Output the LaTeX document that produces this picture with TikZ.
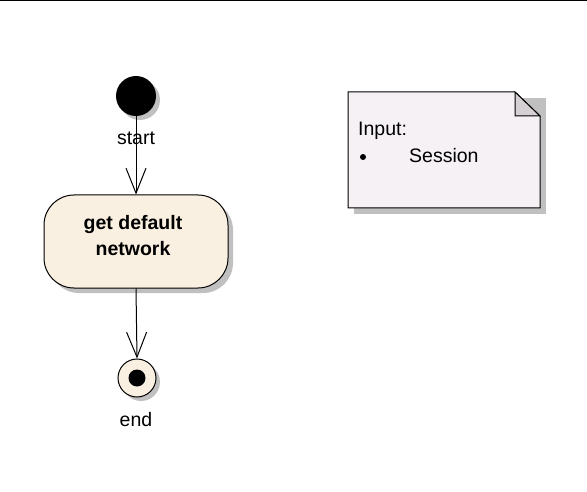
\documentclass[tikz,border=0pt]{standalone}
\usepackage{fontspec}
\setmainfont{Liberation Sans}
\usetikzlibrary{arrows.meta}
\definecolor{actfill}{HTML}{FAF0E1}
\definecolor{notefill}{HTML}{F5F1F5}
\definecolor{foldfill}{HTML}{D4D0D4}
\definecolor{shadowc}{HTML}{C0C0C0}
\tikzset{
  x=1pt, y=-1pt,
  conn/.style={draw, line width=1pt, -{Straight Barb[length=25pt, width=20pt, line width=1pt]}},
  lbl/.style={font=\fontsize{19.5}{22}\selectfont, inner sep=0pt},
}
\begin{document}
\begin{tikzpicture}
\useasboundingbox (0,0) rectangle (587,492);
\draw[line width=1.2pt] (0,0.6) -- (587,0.6);
% start
\fill[shadowc] (140,100) circle (20);
\node[circle, fill=black, minimum size=40pt, inner sep=0pt] (start) at (136,96) {};
\node[lbl] (startlbl) at (136,138) {start};
% action
\fill[shadowc, rounded corners=30pt] (49,200) rectangle (233,293);
\node[draw, line width=1pt, fill=actfill, rounded corners=30pt, minimum width=184pt, minimum height=93pt, inner sep=0pt] (act) at (136,241.5) {};
\node[inner sep=0pt, align=center, font=\bfseries\fontsize{19.5}{26}\selectfont] (acttext) at (133,235.5) {get default\\network};
% end
\fill[shadowc] (141,382) circle (19);
\node[circle, draw, line width=1pt, fill=actfill, minimum size=38pt, inner sep=0pt] (end) at (137,378) {};
\fill[black] (end.center) circle (8.5);
\node[lbl] (endlbl) at (136,420) {end};
% connectors
\draw[conn] (start.south) -- (act.north);
\draw[conn] (act.south) -- (end.north);
% note
\fill[shadowc] (354,98) -- (546,98) -- (546,214) -- (354,214) -- cycle;
\draw[line width=1pt, fill=notefill] (348,92) -- (515,92) -- (540,116) -- (540,208) -- (348,208) -- cycle;
\draw[line width=1pt, fill=foldfill] (515,92) -- (515,116) -- (540,116) -- cycle;
\node[lbl, anchor=west] (noteA) at (358,131) {Input:};
\fill (363,157) circle (3);
\node[lbl, anchor=west] (noteB) at (409,156) {Session};
\end{tikzpicture}
\end{document}
